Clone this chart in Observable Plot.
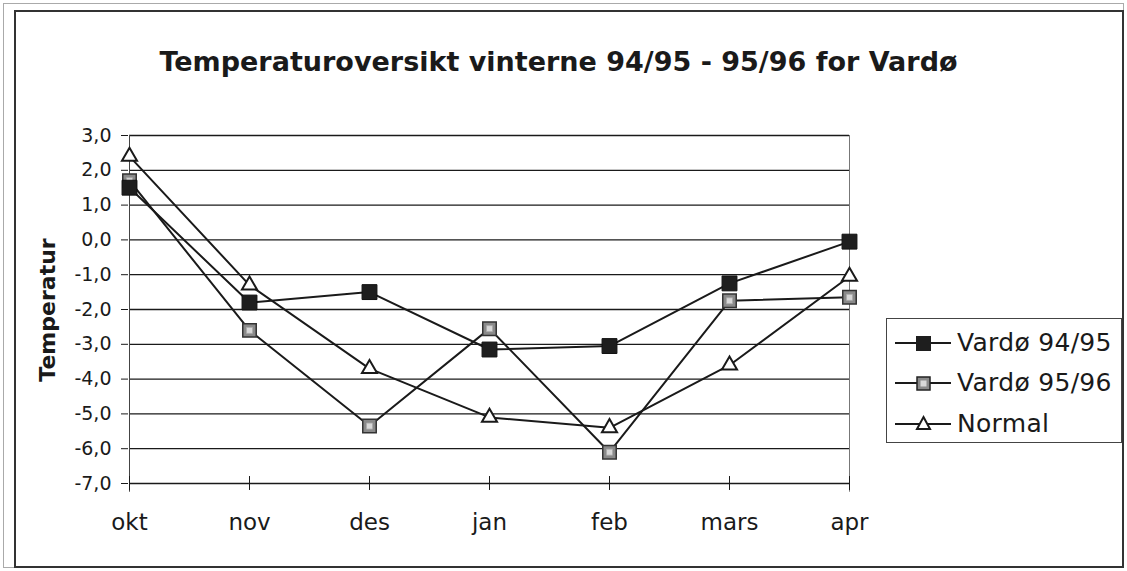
<!DOCTYPE html>
<html>
<head>
<meta charset="utf-8">
<script src="https://cdn.jsdelivr.net/npm/d3@7"></script>
<script src="https://cdn.jsdelivr.net/npm/@observablehq/plot@0.6"></script>
<style>
  html, body { margin: 0; padding: 0; background: #fff; }
  #wrap { position: relative; width: 1127px; height: 571px; overflow: hidden; font-family: "DejaVu Sans", sans-serif; color: #1a1a1a; }
  #outer { position: absolute; left: 3px; top: 3px; width: 1121px; height: 565px; border: 1px solid #aaa; box-sizing: border-box; }
  #frame { position: absolute; left: 14px; top: 10px; width: 1110px; height: 558px; border: 2px solid #333; box-sizing: border-box; }
  #title { position: absolute; left: 0; width: 1117px; top: 46px; text-align: center; font-weight: bold; font-size: 27px; letter-spacing: 0px; }
  #ylabel { position: absolute; left: 47px; top: 310px; transform: translate(-50%, -50%) rotate(-90deg); font-weight: bold; font-size: 22px; white-space: nowrap; }
  #legend { position: absolute; left: 886px; top: 318px; width: 236px; height: 125px; border: 1.5px solid #444; box-sizing: border-box; background: #fff; }
  .item { position: absolute; left: 0; height: 40px; width: 236px; }
  .item svg { position: absolute; left: 6px; top: 0; }
  .item span { position: absolute; left: 70px; top: 4px; font-size: 25px; letter-spacing: 0.3px; white-space: nowrap; }
  #chart { position: absolute; left: 0; top: 0; }
</style>
</head>
<body>
<div id="wrap">
  <div id="outer"></div>
  <div id="frame"></div>
  <div id="chart"></div>
  <div id="title">Temperaturoversikt vinterne 94/95 - 95/96 for Vardø</div>
  <div id="ylabel">Temperatur</div>
  <div id="legend"></div>
</div>
<script>
const months = ["okt", "nov", "des", "jan", "feb", "mars", "apr"];
const vardo9495 = [1.5, -1.8, -1.5, -3.15, -3.05, -1.25, -0.05];
const vardo9596 = [1.7, -2.6, -5.35, -2.55, -6.1, -1.75, -1.65];
const normal = [2.4, -1.3, -3.7, -5.1, -5.4, -3.6, -1.05];
const seriesNames = ["Vardø 94/95", "Vardø 95/96", "Normal"];
const yTicks = [3, 2, 1, 0, -1, -2, -3, -4, -5, -6, -7];

const rows = (vals, name) => vals.map((v, i) => ({month: months[i], value: v, series: name}));
const d1 = rows(vardo9495, seriesNames[0]);
const d2 = rows(vardo9596, seriesNames[1]);
const d3n = rows(normal, seriesNames[2]);

const fmt = d => d.toFixed(1).replace(".", ",");
const ink = "#1a1a1a";
const first = months[0], last = months[months.length - 1];

const chart = Plot.plot({
  width: 1127,
  height: 571,
  marginLeft: 128,
  marginRight: 277,
  marginTop: 135,
  marginBottom: 88,
  style: {background: "transparent", fontFamily: "DejaVu Sans, sans-serif", color: ink},
  x: {type: "point", domain: months, padding: 0},
  y: {domain: [-7, 3]},
  marks: [
    Plot.ruleY(yTicks, {y: d => d, x1: () => first, x2: () => last, stroke: ink, strokeWidth: 1.3}),
    Plot.ruleX([first], {y1: -7.25, y2: 3, stroke: "#444", strokeWidth: 1}),
    Plot.ruleX([last], {y1: -7.25, y2: 3, stroke: "#777", strokeWidth: 1}),
    Plot.ruleX(months, {y1: -7.2, y2: -6.8, stroke: ink, strokeWidth: 1}),
    Plot.axisY({ticks: yTicks, tickFormat: fmt, tickSize: 7, tickPadding: 10, fontSize: 19, label: null, stroke: ink}),
    Plot.axisX({tickSize: 0, tickPadding: 30, fontSize: 23, label: null}),
    Plot.line(d3n, {x: "month", y: "value", stroke: ink, strokeWidth: 2}),
    Plot.line(d2, {x: "month", y: "value", stroke: ink, strokeWidth: 2}),
    Plot.line(d1, {x: "month", y: "value", stroke: ink, strokeWidth: 2}),
    Plot.dot(d3n, {x: "month", y: "value", symbol: "triangle", r: 5.6, fill: "white", stroke: ink, strokeWidth: 2}),
    Plot.dot(d2, {x: "month", y: "value", symbol: "square", r: 7.6, fill: "#8a8a8a", stroke: "#333", strokeWidth: 1.5}),
    Plot.dot(d2, {x: "month", y: "value", symbol: "square", r: 3.4, fill: "#d8d8d8", stroke: "#aaa", strokeWidth: 0.8}),
    Plot.dot(d1, {x: "month", y: "value", symbol: "square", r: 8.4, fill: "#1e1e1e", stroke: "#111", strokeWidth: 1})
  ]
});
document.getElementById("chart").appendChild(chart);

// Legend
const legend = d3.select("#legend");
const tops = [5, 45, 86];
seriesNames.forEach((name, i) => {
  const item = legend.append("div").attr("class", "item").style("top", tops[i] + "px");
  const svg = item.append("svg").attr("width", 62).attr("height", 40);
  svg.append("line").attr("x1", 2).attr("x2", 58).attr("y1", 19).attr("y2", 19).attr("stroke", ink).attr("stroke-width", 2);
  if (i === 0) {
    svg.append("rect").attr("x", 23).attr("y", 12).attr("width", 15).attr("height", 15).attr("fill", "#1e1e1e");
  } else if (i === 1) {
    svg.append("rect").attr("x", 24).attr("y", 13).attr("width", 13).attr("height", 13).attr("fill", "#8a8a8a").attr("stroke", "#222").attr("stroke-width", 1.5);
    svg.append("rect").attr("x", 27.5).attr("y", 16.5).attr("width", 6).attr("height", 6).attr("fill", "#d8d8d8");
  } else {
    svg.append("path").attr("d", "M30.5,12 L37,24 L24,24 Z").attr("fill", "white").attr("stroke", ink).attr("stroke-width", 2);
  }
  item.append("span").text(name);
});
</script>
</body>
</html>
